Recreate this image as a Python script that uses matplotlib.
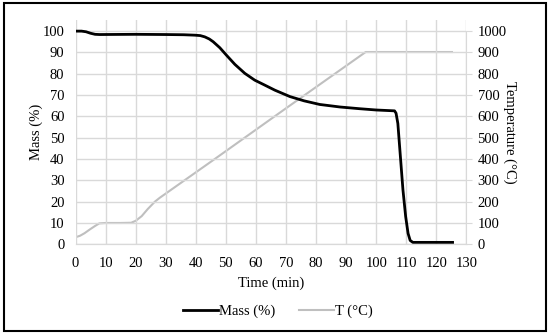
import matplotlib
matplotlib.use("Agg")
import matplotlib.pyplot as plt
from matplotlib.patches import Rectangle

# Data
mass_t = [0, 2.0, 3.5, 5.0, 6.5, 8, 20, 30, 36, 39.7, 41.5, 43.0, 44.5, 45.8, 48.0, 50.2, 53.0, 56.3, 59.6, 62.9, 66.3, 71.3, 76, 81.2, 88, 94.5, 100, 106.1,
          106.6, 107.2, 108, 108.9, 109.8, 110.6, 111.3, 112.2, 114, 125.4]
mass_v = [100, 100, 99.7, 99.0, 98.5, 98.4, 98.5, 98.4, 98.3, 98.1, 97.9, 97.3, 96.3, 95.0, 92.2, 88.7, 84.4, 80.2, 77.0, 74.7, 72.3, 69.3, 67.3, 65.6, 64.4, 63.6, 63.0, 62.6,
          61.5, 56.7, 42, 25.5, 13, 5.1, 1.8, 0.9, 0.9, 0.9]

temp_t = [0, 1.5, 3, 4.8, 6.5, 7.9, 10, 15, 18.5, 20, 22, 24, 26.4, 28, 46.3, 70, 96.5, 110, 125.2]
temp_v = [33, 40, 52, 70, 86, 98, 100, 100, 101, 110, 132, 165, 200, 218, 400, 638, 902, 902, 902]

x_ticks = list(range(0, 131, 10))
mass_ticks = list(range(0, 101, 10))
temp_ticks = list(range(0, 1001, 100))

plt.rcParams['font.family'] = ['Liberation Serif', 'DejaVu Serif']
fs = 10.5

fig = plt.figure(figsize=(5.5, 3.34), dpi=100)
ax = fig.add_axes([0.1373, 0.2686, 0.848 - 0.1373, 0.940 - 0.2686])
ax2 = ax.twinx()

grid_c = '#d9d9d9'
ax.set_xlim(0, 130)
ax.set_ylim(0, 105.2)
ax2.set_ylim(0, 1052)
ax.set_xticks(x_ticks)
ax.set_yticks(mass_ticks)
ax2.set_yticks(temp_ticks)
ax.grid(True, color=grid_c, lw=1.0)
ax.set_axisbelow(True)

l2, = ax2.plot(temp_t, temp_v, color='#bfbfbf', lw=1.5, label='T (°C)')
l1, = ax.plot(mass_t, mass_v, color='black', lw=2.0, label='Mass (%)', solid_joinstyle='round')
ax.set_zorder(ax2.get_zorder() + 1)
ax.patch.set_visible(False)

ax.spines['top'].set_visible(False)
ax2.spines['top'].set_visible(False)
ax.spines['right'].set_visible(False)
ax2.spines['left'].set_visible(False)
ax.spines['left'].set_visible(False)
ax2.spines['bottom'].set_color(grid_c)
ax.spines['bottom'].set_color(grid_c)
ax2.spines['right'].set_color(grid_c)
ax2.spines['right'].set_bounds(0, 1000)

ax.tick_params(axis='x', length=0, labelsize=fs, pad=9)
ax.tick_params(axis='y', length=0, labelsize=fs, pad=8)
ax2.tick_params(axis='y', length=4, color=grid_c, labelsize=fs, pad=4)

ax.set_xlabel('Time (min)', fontsize=fs, labelpad=5)
ax.set_ylabel('Mass (%)', fontsize=fs, labelpad=0)
ax2.set_ylabel('Temperature (°C)', fontsize=fs, rotation=270, labelpad=7)

fig.legend(handles=[l1, l2], loc='center', bbox_to_anchor=(0.505, 0.068), ncol=2, frameon=False,
           fontsize=fs, handlelength=2.4, columnspacing=1.6, handletextpad=0.1)

fig.patches.append(Rectangle((0.007, 0.009), 0.986, 0.982, transform=fig.transFigure,
                             fill=False, edgecolor='black', lw=1.5))

fig.savefig('out.png', dpi=100)
